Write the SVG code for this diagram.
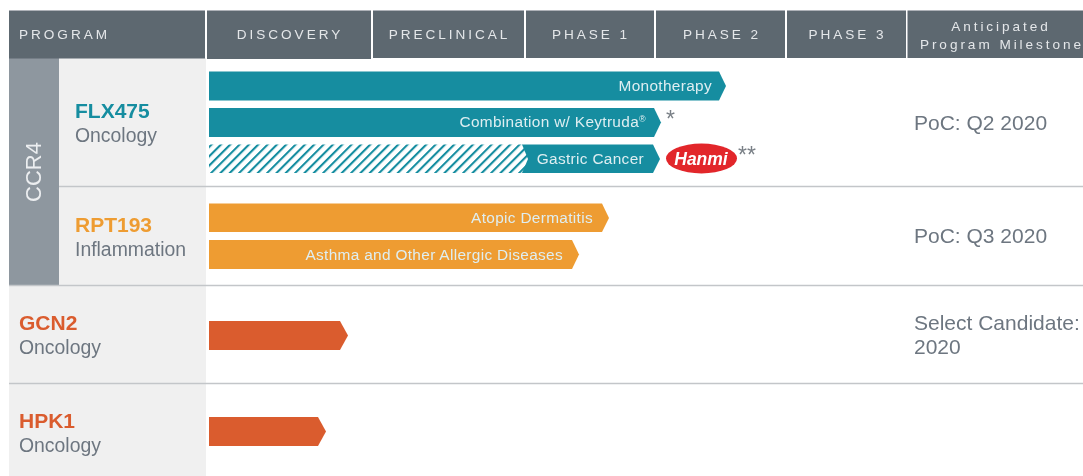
<svg xmlns="http://www.w3.org/2000/svg" width="1083" height="476" viewBox="0 0 1083 476">
<defs>
<pattern id="hatch" width="6.600" height="6.600" patternUnits="userSpaceOnUse" patternTransform="rotate(45)">
<rect width="6.600" height="6.600" fill="#ffffff"/>
<rect width="2.100" height="6.600" fill="#148da0"/>
</pattern>
<filter id="soft" x="0" y="0" width="100%" height="100%"><feGaussianBlur stdDeviation="0.6"/></filter>
</defs>
<style>
text{font-family:"Liberation Sans",Arial,sans-serif}
.hd{fill:#5d6770}
.ht{fill:#e4e7e9;font-size:13.6px;letter-spacing:2.95px;text-anchor:middle}
.panel{fill:#f0f0f0}
.rule{stroke:#c3c6c9;stroke-width:1.5;fill:none}
.name{font-size:21px;font-weight:700}
.sub{font-size:19.4px;fill:#6d7680}
.bar{font-size:15.4px;letter-spacing:.33px;fill:#dfeef1;text-anchor:end}
.teal{fill:#148da0}.orange{fill:#ee9c30}.red{fill:#da5c2e}
.ms{font-size:21px;fill:#6d7680}
.star{font-size:23px;fill:#7a8087}
</style>
<rect width="1083" height="476" fill="#ffffff"/>
<g filter="url(#soft)">
<g id="panels">
<rect class="panel" x="59" y="58" width="147" height="227"/>
<rect class="panel" x="9" y="285" width="197" height="191"/>
<rect x="9" y="58" width="50" height="227" fill="#8e979f"/>
</g>
<g id="header">
<rect class="hd" x="9" y="10.500" width="196" height="48"/>
<rect class="hd" x="207" y="10.500" width="164" height="48.500"/>
<rect class="hd" x="373" y="10.500" width="151" height="47.500"/>
<rect class="hd" x="526" y="10.500" width="128" height="47.500"/>
<rect class="hd" x="656" y="10.500" width="129" height="47.500"/>
<rect class="hd" x="787" y="10.500" width="119" height="47.500"/>
<rect class="hd" x="907.500" y="10.500" width="175.500" height="47.500"/>
<text class="ht" x="64.500" y="39">PROGRAM</text>
<text class="ht" x="290" y="39">DISCOVERY</text>
<text class="ht" x="449.500" y="39">PRECLINICAL</text>
<text class="ht" x="591" y="39">PHASE 1</text>
<text class="ht" x="722" y="39">PHASE 2</text>
<text class="ht" x="847.500" y="39">PHASE 3</text>
<text class="ht" x="1001" y="30.500">Anticipated</text>
<text class="ht" x="1002" y="49">Program Milestone</text>
</g>
<g id="rules">
<line class="rule" x1="59" y1="186.500" x2="1083" y2="186.500"/>
<line class="rule" x1="9" y1="285.500" x2="1083" y2="285.500" stroke-width="2.500"/>
<line class="rule" x1="9" y1="383.500" x2="1083" y2="383.500"/>
</g>
<g id="ccr4">
<text x="41" y="172" font-size="22" fill="#eceef0" text-anchor="middle" transform="rotate(-90 41 172)">CCR4</text>
</g>
<g id="flx475">
<text class="name" x="75" y="118" fill="#148da0">FLX475</text>
<text class="sub" x="75" y="142">Oncology</text>
<polygon class="teal" points="209,71.500 719,71.500 726,86 719,100.500 209,100.500"/>
<text class="bar" x="712" y="91">Monotherapy</text>
<polygon class="teal" points="209,108 654,108 661,122.500 654,137 209,137"/>
<text class="bar" x="646" y="127">Combination w/ Keytruda<tspan font-size="9" dy="-5">®</tspan></text>
<text class="star" x="666" y="127">*</text>
<polygon class="teal" points="522,144.500 653,144.500 660,159 653,173 522,173"/>
<polygon fill="url(#hatch)" points="209,144.500 522,144.500 528,159 522,173 209,173"/>
<text class="bar" x="644" y="164">Gastric Cancer</text>
<ellipse cx="701.500" cy="158.500" rx="35.500" ry="15" fill="#e2252c"/>
<text x="701" y="164.500" font-size="17.500" font-weight="700" font-style="italic" fill="#ffffff" text-anchor="middle">Hanmi</text>
<text class="star" x="738" y="163">**</text>
<text class="ms" x="914" y="130">PoC: Q2 2020</text>
</g>
<g id="rpt193">
<text class="name" x="75" y="232" fill="#ee9c30">RPT193</text>
<text class="sub" x="75" y="256">Inflammation</text>
<polygon class="orange" points="209,203.500 602,203.500 609,218 602,232 209,232"/>
<text class="bar" x="593" y="223">Atopic Dermatitis</text>
<polygon class="orange" points="209,240 572,240 579,254.500 572,269 209,269"/>
<text class="bar" x="563" y="259.500">Asthma and Other Allergic Diseases</text>
<text class="ms" x="914" y="243">PoC: Q3 2020</text>
</g>
<g id="gcn2">
<text class="name" x="19" y="330" fill="#da5c2e">GCN2</text>
<text class="sub" x="19" y="354">Oncology</text>
<polygon class="red" points="209,321 340,321 348,335.500 340,350 209,350"/>
<text class="ms" x="914" y="330">Select Candidate:</text>
<text class="ms" x="914" y="354">2020</text>
</g>
<g id="hpk1">
<text class="name" x="19" y="428" fill="#da5c2e">HPK1</text>
<text class="sub" x="19" y="452">Oncology</text>
<polygon class="red" points="209,417 318,417 326,431.500 318,446 209,446"/>
</g>
</g>
</svg>
